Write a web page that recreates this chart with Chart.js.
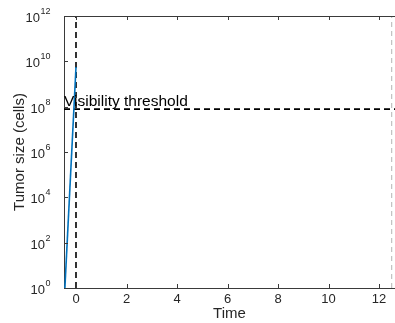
<!DOCTYPE html>
<html>
<head>
<meta charset="utf-8">
<script src="https://cdn.jsdelivr.net/npm/chart.js@4.4.1/dist/chart.umd.min.js"></script>
<style>
  html, body { margin: 0; padding: 0; background: #fff; }
  #wrap { width: 395px; height: 323px; }
</style>
</head>
<body>
<div id="wrap"><canvas id="tumorChart" width="395" height="323"></canvas></div>
<script>
// axis ranges and ticks
const timeRange = [-0.475, 12.63];
const cellRange = [1, 1e12];
const timeTicks = [0, 2, 4, 6, 8, 10, 12];
const cellTickExponents = [0, 2, 4, 6, 8, 10, 12];

// tumor growth curve (exponential, straight on log axis)
const growthTime = [-0.44, 0];
const growthCells = [1, 5.6e9];

// reference lines
const thresholdCells = 7.8e7;
const diagnosisTime = 0;
const endTime = 12.5;
const thresholdLabel = 'Visibility threshold';

const FONT = '"Liberation Sans", Arial, Helvetica, sans-serif';
const TEXT = '#262626';
const AXIS = '#3a3a3a';

const toPoints = (xs, ys) => xs.map((x, i) => ({ x: x, y: ys[i] }));

// MATLAB-ish axes: top border, inward ticks, 10^n labels, text annotation
const matlabAxes = {
    id: 'matlabAxes',
    afterDraw(chart) {
        const ctx = chart.ctx;
        const area = chart.chartArea;
        const xs = chart.scales.x;
        const ys = chart.scales.y;
        ctx.save();
        ctx.strokeStyle = AXIS;
        ctx.lineWidth = 1;
        ctx.beginPath();
        ctx.moveTo(area.left, area.top + 0.5);
        ctx.lineTo(area.right, area.top + 0.5);
        // x ticks, bottom and top, pointing in
        timeTicks.forEach(v => {
            const px = Math.round(xs.getPixelForValue(v)) + 0.5;
            ctx.moveTo(px, area.bottom);
            ctx.lineTo(px, area.bottom - 4);
            ctx.moveTo(px, area.top);
            ctx.lineTo(px, area.top + 4);
        });
        // y ticks, left only
        cellTickExponents.forEach(e => {
            const py = Math.round(ys.getPixelForValue(Math.pow(10, e))) + 0.5;
            ctx.moveTo(area.left, py);
            ctx.lineTo(area.left + 4, py);
        });
        ctx.stroke();

        // y tick labels as 10 with superscript
        ctx.fillStyle = TEXT;
        ctx.textAlign = 'right';
        ctx.textBaseline = 'middle';
        cellTickExponents.forEach(e => {
            const py = ys.getPixelForValue(Math.pow(10, e));
            const right = area.left - 13.5;
            ctx.font = '9px ' + FONT;
            const ew = ctx.measureText(String(e)).width;
            ctx.fillText(String(e), right, py - 4.5);
            ctx.font = '13px ' + FONT;
            ctx.fillText('10', right - ew - 0.5, py + 2.5);
        });

        // threshold annotation
        ctx.font = '15.5px ' + FONT;
        ctx.textAlign = 'left';
        ctx.textBaseline = 'alphabetic';
        ctx.fillStyle = '#000';
        ctx.fillText(thresholdLabel, xs.getPixelForValue(timeRange[0]), ys.getPixelForValue(1e8) - 1);
        ctx.restore();
    }
};

const ctx = document.getElementById('tumorChart').getContext('2d');
const tumorChart = new Chart(ctx, {
    type: 'line',
    data: {
        datasets: [
            {
                label: 'growth',
                data: toPoints(growthTime, growthCells),
                borderColor: '#0072BD',
                borderWidth: 1.6
            },
            {
                label: 'threshold',
                data: toPoints(timeRange, [thresholdCells, thresholdCells]),
                borderColor: '#000',
                borderWidth: 1.6,
                borderDash: [6, 4]
            },
            {
                label: 'diagnosis',
                data: toPoints([diagnosisTime, diagnosisTime], cellRange),
                borderColor: '#000',
                borderWidth: 1.6,
                borderDash: [6, 4]
            },
            {
                label: 'end',
                data: toPoints([endTime, endTime], cellRange),
                borderColor: '#b4b4b4',
                borderWidth: 1,
                borderDash: [5, 4]
            }
        ]
    },
    options: {
        responsive: false,
        animation: false,
        layout: { padding: { top: 16, right: 0, left: 0, bottom: 0 } },
        elements: { point: { radius: 0 }, line: { tension: 0 } },
        scales: {
            x: {
                type: 'linear',
                min: timeRange[0],
                max: timeRange[1],
                afterBuildTicks: s => { s.ticks = timeTicks.map(v => ({ value: v })); },
                afterFit: s => { s.height = 35; },
                grid: { display: false, drawTicks: false },
                border: { display: true, color: AXIS, width: 1 },
                ticks: {
                    color: TEXT,
                    font: { family: FONT, size: 13 },
                    padding: 4,
                    maxRotation: 0,
                    autoSkip: false
                },
                title: {
                    display: true,
                    text: 'Time',
                    color: TEXT,
                    font: { family: FONT, size: 15 },
                    padding: { top: -3, bottom: 0 }
                }
            },
            y: {
                type: 'logarithmic',
                min: cellRange[0],
                max: cellRange[1],
                afterBuildTicks: s => { s.ticks = cellTickExponents.map(e => ({ value: Math.pow(10, e) })); },
                afterFit: s => { s.width = 64; },
                grid: { display: false, drawTicks: false },
                border: { display: true, color: AXIS, width: 1 },
                ticks: { display: false },
                title: {
                    display: true,
                    text: 'Tumor size (cells)',
                    color: TEXT,
                    font: { family: FONT, size: 15 },
                    padding: { top: 11, bottom: 0 }
                }
            }
        },
        plugins: {
            legend: { display: false },
            tooltip: { enabled: false }
        }
    },
    plugins: [matlabAxes]
});
</script>
</body>
</html>
